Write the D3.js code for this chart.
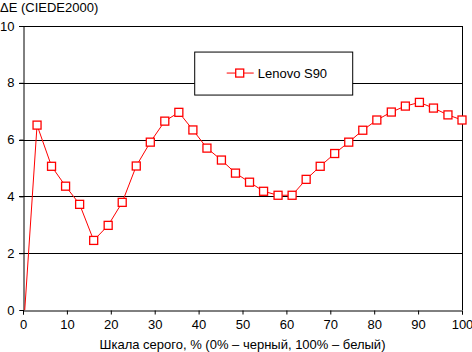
<!DOCTYPE html>
<html>
<head>
<meta charset="utf-8">
<script src="https://cdn.jsdelivr.net/npm/d3@7"></script>
<style>
  body { margin: 0; background: #fff; }
  text { font-family: "Liberation Sans Narrow", "Arial Narrow", "Liberation Sans", Arial, sans-serif; font-size: 13px; fill: #000; }
</style>
</head>
<body>
<svg id="svgChart" width="472" height="352"></svg>
<script>
// grey level, % (0% black, 100% white)
var greyLevels = [0.4, 3.2, 6.5, 9.7, 12.9, 16.1, 19.4, 22.6, 25.8, 29.0, 32.3,
  35.5, 38.7, 41.9, 45.2, 48.4, 51.6, 54.8, 58.1, 61.3, 64.5, 67.7, 71.0, 74.2,
  77.4, 80.6, 83.9, 87.1, 90.3, 93.5, 96.8, 100];

// delta E (CIEDE2000) for Lenovo S90
var deltaE = [0, 6.51, 5.06, 4.36, 3.72, 2.45, 2.98, 3.79, 5.07, 5.91, 6.65,
  6.96, 6.34, 5.70, 5.28, 4.82, 4.50, 4.18, 4.04, 4.04, 4.60, 5.06, 5.51, 5.91,
  6.33, 6.69, 6.97, 7.18, 7.31, 7.11, 6.87, 6.69];

var xTicks = [0, 10, 20, 30, 40, 50, 60, 70, 80, 90, 100];
var yTicks = [0, 2, 4, 6, 8, 10];
var seriesName = "Lenovo S90";
var yTitle = "\u0394E (CIEDE2000)";
var xTitle = "Шкала серого, % (0% – черный, 100% – белый)";

var svg = d3.select("#svgChart");
var margin = {top: 26, right: 10, bottom: 42, left: 23};
var width = +svg.attr("width") - margin.left - margin.right;
var height = +svg.attr("height") - margin.top - margin.bottom;
var g = svg.append("g")
    .attr("transform", "translate(" + margin.left + "," + margin.top + ")");

// scales
var x = d3.scaleLinear().domain([0, 100]).range([0, width]);
var y = d3.scaleLinear().domain([0, 10]).range([height, 0]);

// horizontal grid lines (with the little tick on the left)
g.selectAll(".grid")
  .data(yTicks.slice(1))
  .enter().append("line")
    .attr("class", "grid")
    .attr("x1", -4)
    .attr("x2", width)
    .attr("y1", function(d) { return Math.round(y(d)) + 0.5; })
    .attr("y2", function(d) { return Math.round(y(d)) + 0.5; })
    .attr("stroke", "#000")
    .attr("stroke-width", 1);

// right border
g.append("line")
  .attr("x1", Math.round(width) + 0.5)
  .attr("x2", Math.round(width) + 0.5)
  .attr("y1", 0)
  .attr("y2", height)
  .attr("stroke", "#000");

// y axis
var yAxis = d3.axisLeft(y).tickValues(yTicks).tickSize(4).tickPadding(5)
  .tickFormat(d3.format("d"));
g.append("g")
  .attr("class", "y axis")
  .attr("transform", "translate(0.5,0)")
  .call(yAxis);

// x axis
var xAxis = d3.axisBottom(x).tickValues(xTicks).tickSize(4).tickPadding(5)
  .tickFormat(d3.format("d"));
g.append("g")
  .attr("class", "x axis")
  .attr("transform", "translate(0," + (Math.round(height) + 0.5) + ")")
  .call(xAxis);

g.selectAll(".axis path").attr("stroke", "#000").attr("stroke-width", 1);
g.selectAll(".axis .tick line").attr("stroke", "#000");
g.selectAll(".axis text").attr("fill", "#000")
  .style("font-family", null).style("font-size", null);
g.selectAll(".axis").attr("font-family", null).attr("font-size", null);

// legend box
var legend = g.append("g")
  .attr("transform", "translate(" + (x(39) + 0.5) + "," + (y(9.1) + 0.5) + ")");
legend.append("rect")
  .attr("width", 158)
  .attr("height", 43)
  .attr("fill", "#fff")
  .attr("stroke", "#000");
legend.append("line")
  .attr("x1", 32).attr("x2", 59)
  .attr("y1", 21).attr("y2", 21)
  .attr("stroke", "red");
legend.append("rect")
  .attr("x", 41).attr("y", 17)
  .attr("width", 8).attr("height", 8)
  .attr("fill", "#fff")
  .attr("stroke", "red")
  .attr("stroke-width", 1.3);
legend.append("text")
  .attr("x", 63)
  .attr("y", 21)
  .attr("dy", "0.35em")
  .text(seriesName);

// the line
var valueline = d3.line()
  .x(function(d, i) { return x(greyLevels[i]); })
  .y(function(d) { return y(d); });

g.append("path")
  .attr("fill", "none")
  .attr("stroke", "red")
  .attr("stroke-width", 1)
  .attr("d", valueline(deltaE));

// markers (first point has none)
g.selectAll(".marker")
  .data(deltaE.slice(1))
  .enter().append("rect")
    .attr("class", "marker")
    .attr("x", function(d, i) { return x(greyLevels[i + 1]) - 4; })
    .attr("y", function(d) { return y(d) - 4; })
    .attr("width", 8)
    .attr("height", 8)
    .attr("fill", "#fff")
    .attr("stroke", "red")
    .attr("stroke-width", 1.3);

// titles
svg.append("text")
  .attr("x", 0)
  .attr("y", 12)
  .text(yTitle);

svg.append("text")
  .attr("x", margin.left + width / 2)
  .attr("y", 349)
  .style("text-anchor", "middle")
  .text(xTitle);
</script>
</body>
</html>
